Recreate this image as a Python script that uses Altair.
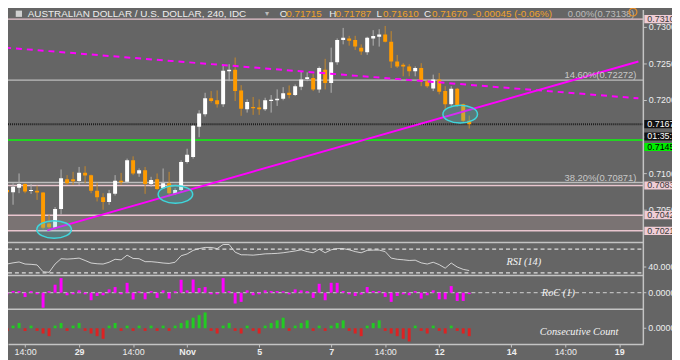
import altair as alt
import pandas as pd

# ---------------- data ----------------
bar_index = list(range(-12, 66))
opens = [0.70771, 0.70740, 0.70802, 0.70852, 0.70757, 0.70761, 0.70734, 0.70311, 0.70253, 0.70510,
         0.70915, 0.70915, 0.70892, 0.71004, 0.70973, 0.70761, 0.70672, 0.70604, 0.70717, 0.70896,
         0.70883, 0.71176, 0.70996, 0.71041, 0.70852, 0.70915, 0.70794, 0.70861, 0.70717, 0.70771,
         0.71153, 0.71220, 0.71635, 0.71807, 0.72023, 0.71996, 0.71942, 0.72392, 0.72415, 0.72131,
         0.71874, 0.71905, 0.71896, 0.71874, 0.71986, 0.71996, 0.72018, 0.72099, 0.72068, 0.72180,
         0.72288, 0.72301, 0.72145, 0.72415, 0.72234, 0.72518, 0.72820, 0.72842, 0.72820, 0.72716,
         0.72653, 0.72842, 0.72865, 0.72896, 0.72797, 0.72527, 0.72482, 0.72459, 0.72392, 0.72437,
         0.72257, 0.72158, 0.72280, 0.72122, 0.71942, 0.72153, 0.71942, 0.71715]
highs = [0.70790, 0.70861, 0.70996, 0.70861, 0.70852, 0.70829, 0.70740, 0.70433, 0.70537, 0.71050,
         0.70973, 0.71018, 0.71085, 0.71095, 0.70980, 0.70869, 0.70726, 0.70771, 0.70973, 0.71004,
         0.71199, 0.71230, 0.71064, 0.71085, 0.70950, 0.70996, 0.71064, 0.71018, 0.70794, 0.71176,
         0.71334, 0.71660, 0.71861, 0.72099, 0.72122, 0.72131, 0.72482, 0.72490, 0.72581, 0.72203,
         0.72009, 0.72041, 0.72009, 0.72031, 0.72068, 0.72145, 0.72176, 0.72199, 0.72212, 0.72392,
         0.72378, 0.72355, 0.72459, 0.72563, 0.72716, 0.72842, 0.72986, 0.72878, 0.72878, 0.72761,
         0.72865, 0.72955, 0.72968, 0.73013, 0.72942, 0.72617, 0.72504, 0.72490, 0.72459, 0.72504,
         0.72280, 0.72347, 0.72369, 0.72189, 0.72189, 0.72166, 0.71950, 0.71787]
lows = [0.70720, 0.70568, 0.70726, 0.70726, 0.70717, 0.70635, 0.70230, 0.70217, 0.70230, 0.70433,
        0.70838, 0.70838, 0.70838, 0.70861, 0.70726, 0.70613, 0.70500, 0.70568, 0.70694, 0.70838,
        0.70861, 0.70973, 0.70950, 0.70717, 0.70815, 0.70771, 0.70785, 0.70680, 0.70703, 0.70748,
        0.71131, 0.71199, 0.71491, 0.71774, 0.71964, 0.71896, 0.71905, 0.72257, 0.71986, 0.71784,
        0.71828, 0.71797, 0.71797, 0.71851, 0.71828, 0.71919, 0.71996, 0.72023, 0.72054, 0.72135,
        0.72257, 0.72122, 0.72099, 0.72145, 0.72099, 0.72482, 0.72761, 0.72743, 0.72685, 0.72617,
        0.72617, 0.72743, 0.72730, 0.72788, 0.72437, 0.72437, 0.72324, 0.72324, 0.72324, 0.72189,
        0.72166, 0.72122, 0.72077, 0.71861, 0.71919, 0.71905, 0.71693, 0.71610]
closes = [0.70740, 0.70815, 0.70852, 0.70748, 0.70768, 0.70734, 0.70253, 0.70261, 0.70510, 0.70929,
          0.70861, 0.70888, 0.71004, 0.70969, 0.70761, 0.70672, 0.70604, 0.70726, 0.70896, 0.70875,
          0.71176, 0.70996, 0.71041, 0.70852, 0.70906, 0.70784, 0.70861, 0.70726, 0.70771, 0.71153,
          0.71253, 0.71649, 0.71815, 0.72023, 0.71986, 0.71942, 0.72401, 0.72415, 0.72122, 0.71882,
          0.71973, 0.71888, 0.71874, 0.71996, 0.72004, 0.72018, 0.72091, 0.72068, 0.72189, 0.72280,
          0.72311, 0.72145, 0.72437, 0.72234, 0.72518, 0.72820, 0.72851, 0.72811, 0.72730, 0.72662,
          0.72851, 0.72874, 0.72896, 0.72797, 0.72527, 0.72459, 0.72459, 0.72392, 0.72437, 0.72266,
          0.72189, 0.72280, 0.72112, 0.71942, 0.72153, 0.71919, 0.71716, 0.71670]
rsi_vals = [45, 47, 48.5, 45, 44.5, 43.5, 32, 31, 45, 54,
            53.3, 54, 55, 51, 46.7, 45.5, 45, 48, 53, 52,
            60, 54.4, 54, 49, 49, 48, 46.7, 46, 48, 59,
            62, 68, 71, 73, 73, 71, 78, 78, 65, 60.6,
            60.5, 60, 61, 62.2, 62.5, 63, 64, 65.5, 67, 69,
            66, 64, 70, 64, 69, 71, 71, 69, 66, 64,
            68, 68.5, 68.5, 66, 55, 53, 52.2, 51, 51.5, 47,
            45, 48, 44, 38, 46.7, 40, 36, 34]
roc_vals = [-0.07, 0.07, 0.07, -0.18, 0.07, -0.07, -0.64, 0.07, 0.34, 0.62,
            -0.11, -0.07, 0.10, -0.07, -0.32, -0.14, -0.11, 0.14, 0.24, -0.07,
            0.42, -0.29, 0.06, -0.28, 0.07, -0.22, 0.10, -0.25, 0.06, 0.55,
            0.10, 0.56, 0.20, 0.24, -0.07, -0.07, 0.62, 0.07, -0.46, -0.39,
            0.10, -0.11, -0.07, 0.10, 0.07, 0.07, 0.06, -0.07, 0.14, 0.10,
            0.07, -0.22, 0.38, -0.32, 0.42, 0.42, 0.07, -0.07, -0.14, -0.08,
            0.24, 0.07, 0.07, -0.18, -0.39, -0.14, -0.07, -0.11, 0.07, -0.25,
            -0.11, 0.10, -0.28, -0.28, 0.28, -0.35, -0.35, -0.06]
count_vals = [-1, 1, 2, -1, 1, -1, -2, -3, 1, 2,
              -1, 1, 2, -1, -2, -3, -4, 1, 2, -1,
              1, -1, 1, -1, 1, -1, 1, -1, 1, 2,
              3, 4, 5, 6, -1, -2, 1, 2, -1, -2,
              1, -1, -2, 1, 2, 3, 4, -1, 1, 2,
              3, -1, 1, -1, 1, 2, 3, -1, -2, -3,
              1, 2, 3, -1, -2, -3, -4, -5, 1, -1,
              -2, 1, -1, -2, 1, -1, -2, -3]

tick_vals = [-9, 0, 9, 18, 30, 42, 51, 60, 72, 81, 90]
tick_labels = ["14:00", "29", "14:00", "Nov", "5", "7", "14:00", "12", "14", "14:00", "19"]
price_ticks = [0.705, 0.710, 0.715, 0.720, 0.725, 0.730]

trend_x = [-5.3, 93.19]
trend_y = [0.70217, 0.72527]
dash_x = [-12.32, 93.19]
dash_y = [0.72716, 0.72023]
ellipse_x = [-4.16, 16.05, 63.5]
ellipse_y = [0.70230, 0.70710, 0.71807]

fib_levels = [0.72272, 0.70871]
fib_texts = ["14.60%(0.72272)", "38.20%(0.70871)"]
fib_top_level = [0.73138]
fib_top_text = ["0.00%(0.73138)"]
pink_levels = [0.73106, 0.70831, 0.70425, 0.70211]
pink_texts = ["0.73106", "0.70831", "0.70425", "0.70211"]
band_top = [0.70425]
band_bottom = [0.70211]
last_close = [0.71670]
last_text = ["0.71670"]
green_level = [0.71452]
green_text = ["0.71452"]
countdown = ["01:35:52"]
rsi_levels = [70, 30]
rsi_label_val = [40]
zero_val = [0]

title_text = "AUSTRALIAN DOLLAR / U.S. DOLLAR, 240, IDC"
ohlc_letters = ["O", "H", "L", "C"]
ohlc_values = ["0.71715", "0.71787", "0.71610", "0.71670"]
change_text = "-0.00045 (-0.06%)"
panel_titles = ["RSI (14)", "RoC (1)", "Consecutive Count"]

# ---------------- styling / layout ----------------
W, H = 643, 338
BG = "#656565"
ORANGE = "#ff9b00"
LINEGRAY = "#c4c4c4"
TXT = "#eeeeee"
FONT = "Liberation Sans"

XS = alt.Scale(domain=[-11.02, 93.19], nice=False, zero=False)


def ysc(dom, rng):
    return alt.Scale(domain=dom, range=rng, nice=False, zero=False)


PY = ysc([0.700, 0.732], [239.04, 2.18])
RY = ysc([30, 70], [266, 242])
CY = ysc([-1, 1], [309.8, 262.2])
NY = ysc([-6, 6], [338, 306])

label_expr = "''"
for v, t in reversed(list(zip(tick_vals, tick_labels))):
    label_expr = f"datum.value == {v} ? '{t}' : ({label_expr})"

XAXIS = alt.Axis(values=tick_vals, labelExpr=label_expr, title=None, grid=False,
                 domainColor=LINEGRAY, domainWidth=1.5, tickColor=LINEGRAY, tickSize=3,
                 labelColor=TXT, labelFontSize=9, labelFont=FONT, labelPadding=1,
                 labelFontWeight={"condition": {"test": "indexof([-9, 9, 51, 81], datum.value) < 0",
                                                "value": "bold"}, "value": "normal"},
                 labelOverlap=False, labelFlush=False)
PAXIS = alt.Axis(orient="right", values=price_ticks, format=".5f", title=None, grid=False,
                 domain=False, tickSize=3, tickColor=LINEGRAY, labelColor=TXT, labelFontSize=9,
                 labelFont=FONT, labelPadding=2)

df = pd.DataFrame(dict(i=bar_index, o=opens, h=highs, l=lows, c=closes,
                       rsi=rsi_vals, roc=roc_vals, cnt=count_vals))
base = alt.Chart(df)
X = alt.X("i:Q", scale=XS, axis=XAXIS)
UP = "datum.c >= datum.o"
dummy = pd.DataFrame({"a": [0]})

layers = []

# band
layers.append(alt.Chart(pd.DataFrame({"a": band_top, "b": band_bottom})).mark_rect(color="#7a7373").encode(
    y=alt.Y("a:Q", scale=PY, axis=None), y2="b:Q", x=alt.value(0), x2=alt.value(W)))


def hlines(vals, **kw):
    return alt.Chart(pd.DataFrame({"p": vals})).mark_rule(**kw).encode(
        y=alt.Y("p:Q", scale=PY, axis=None), x=alt.value(0), x2=alt.value(W))


layers.append(hlines(fib_levels, color="#bdbdbd", strokeWidth=1.5))
layers.append(hlines(pink_levels, color="#e9c6cf", strokeWidth=1.5))
layers.append(hlines(last_close, color="#1c1c1c", strokeWidth=2, strokeDash=[1, 1]))
layers.append(hlines(green_level, color="#22d422", strokeWidth=2))

# candles
layers.append(base.mark_rule(strokeWidth=1, clip=True).encode(
    x=X, y=alt.Y("h:Q", scale=PY, axis=None), y2="l:Q",
    color=alt.condition(UP, alt.value("#b4b4b4"), alt.value("#c8892a"))))
layers.append(base.mark_bar(size=4, clip=True).encode(
    x=X, y=alt.Y("o:Q", scale=PY, axis=PAXIS), y2="c:Q",
    color=alt.condition(UP, alt.value("#ffffff"), alt.value(ORANGE))))

# trend lines
layers.append(alt.Chart(pd.DataFrame({"tx": trend_x, "ty": trend_y})).mark_line(
    color="#ff00ff", strokeWidth=2, clip=True).encode(
    x=alt.X("tx:Q", scale=XS, axis=XAXIS), y=alt.Y("ty:Q", scale=PY, axis=None)))
layers.append(alt.Chart(pd.DataFrame({"tx": dash_x, "ty": dash_y})).mark_line(
    color="#ff00ff", strokeWidth=2, strokeDash=[6, 5], clip=True).encode(
    x=alt.X("tx:Q", scale=XS, axis=XAXIS), y=alt.Y("ty:Q", scale=PY, axis=None)))

# ellipses
ELL = "M-1,0 A1,0.51 0 1,1 1,0 A1,0.51 0 1,1 -1,0 Z"
layers.append(alt.Chart(pd.DataFrame({"ex": ellipse_x, "ey": ellipse_y})).mark_point(
    shape=ELL, size=1225, filled=True, fill="#3cc6c9", fillOpacity=0.22, stroke="#3fd6dc",
    strokeWidth=1.5, opacity=1, clip=True).encode(
    x=alt.X("ex:Q", scale=XS, axis=XAXIS), y=alt.Y("ey:Q", scale=PY, axis=None)))

# fib labels
layers.append(alt.Chart(pd.DataFrame({"p": fib_levels, "t": fib_texts})).mark_text(
    align="right", baseline="middle", dy=-5, fontSize=9.5, font=FONT, color="#c8c8c8").encode(
    x=alt.value(636), y=alt.Y("p:Q", scale=PY, axis=None), text="t:N"))
layers.append(alt.Chart(pd.DataFrame({"p": fib_top_level, "t": fib_top_text})).mark_text(
    align="right", baseline="middle", dy=-3, fontSize=9.5, font=FONT, color="#bdbdbd").encode(
    x=alt.value(634), y=alt.Y("p:Q", scale=PY, axis=None), text="t:N"))

# indicator panels
layers.append(base.mark_line(color="#d4d4d4", strokeWidth=1, clip=True).encode(
    x=X, y=alt.Y("rsi:Q", scale=RY, axis=None)))
layers.append(alt.Chart(pd.DataFrame({"v": rsi_levels})).mark_rule(
    color="#dddddd", strokeWidth=1.2, strokeDash=[4, 3]).encode(
    y=alt.Y("v:Q", scale=RY, axis=None), x=alt.value(0), x2=alt.value(W)))
layers.append(alt.Chart(pd.DataFrame({"v": zero_val})).mark_rule(
    color="#bbbbbb", strokeWidth=1.2, strokeDash=[4, 3]).encode(
    y=alt.Y("v:Q", scale=CY, axis=None), x=alt.value(0), x2=alt.value(W)))
layers.append(base.mark_bar(size=3, color="#ff00ff", clip=True).encode(
    x=X, y=alt.Y("roc:Q", scale=CY, axis=None), y2=alt.datum(0)))
layers.append(base.mark_bar(size=3, clip=True).encode(
    x=X, y=alt.Y("cnt:Q", scale=NY, axis=None), y2=alt.datum(0),
    color=alt.condition("datum.cnt > 0", alt.value("#22cc22"), alt.value("#dd2222"))))

# separators and right edge
for sy in [235.3, 268.7, 302.7]:
    layers.append(alt.Chart(dummy).mark_rule(color=LINEGRAY, strokeWidth=1.5).encode(
        y=alt.value(sy), x=alt.value(0), x2=alt.value(W)))
layers.append(alt.Chart(dummy).mark_rule(color=LINEGRAY, strokeWidth=1.5).encode(
    x=alt.value(W), y=alt.value(0), y2=alt.value(H)))

# right-hand sub-panel value labels
for vals, sc, txt in [(rsi_label_val, RY, "40.0000"), (zero_val, CY, "0.0000"), (zero_val, NY, "0.0000")]:
    d = pd.DataFrame({"v": vals, "t": [txt]})
    layers.append(alt.Chart(d).mark_rule(color=LINEGRAY, strokeWidth=1).encode(
        y=alt.Y("v:Q", scale=sc, axis=None), x=alt.value(W), x2=alt.value(W + 3)))
    layers.append(alt.Chart(d).mark_text(align="left", baseline="middle", fontSize=9, font=FONT,
                                         color=TXT).encode(
        y=alt.Y("v:Q", scale=sc, axis=None), x=alt.value(W + 5), text="t:N"))

# price label boxes
BOX = "M-1,-0.23 L1,-0.23 L1,0.23 L-1,0.23 Z"


def box(vals, texts, fill, tcolor, yoff=0):
    d = pd.DataFrame({"p": vals, "t": texts})
    b = alt.Chart(d).mark_point(shape=BOX, size=1296, filled=True, fill=fill, strokeWidth=0,
                                opacity=1, yOffset=yoff).encode(
        x=alt.value(662), y=alt.Y("p:Q", scale=PY, axis=None))
    t = alt.Chart(d).mark_text(align="left", baseline="middle", fontSize=9, font=FONT,
                               color=tcolor, dy=yoff).encode(
        x=alt.value(W + 4), y=alt.Y("p:Q", scale=PY, axis=None), text="t:N")
    return [b, t]


layers += box(pink_levels, pink_texts, "#f0cdd6", "#3a3a3a")
layers += box(last_close, last_text, "#111111", "#ffffff")
layers += box(last_close, countdown, "#111111", "#ffffff", 12.5)
layers += box(green_level, green_text, "#00ee00", "#000000", 7)


def txt(s, x, y, color=TXT, size=10, align="left", font=FONT, style="normal", weight="normal"):
    return alt.Chart(dummy).mark_text(text=s, align=align, baseline="middle", fontSize=size,
                                      font=font, fontStyle=style, fontWeight=weight,
                                      color=color).encode(x=alt.value(x), y=alt.value(y))


# header
layers.append(alt.Chart(dummy).mark_point(shape="square", size=40, filled=True, fill="#d0d0d0",
                                          opacity=1).encode(x=alt.value(11), y=alt.value(3.7)))
layers.append(txt(title_text, 20, 3.7))
layers.append(txt("▾", 260, 3.7, color="#bbbbbb", size=8))
ORTXT = "#f0a22a"
for letter, val, lx in zip(ohlc_letters, ohlc_values, [275, 325, 373, 421]):
    layers.append(txt(letter, lx, 3.7))
    layers.append(txt(val, lx + 6.5 if letter != "C" else lx + 8, 3.7, color=ORTXT))
layers.append(txt(change_text, 470, 3.7, color=ORTXT))
layers.append(alt.Chart(dummy).mark_point(shape="circle", size=64, filled=False, stroke="#e8902a",
                                          strokeWidth=1.2, opacity=1).encode(
    x=alt.value(632.5), y=alt.value(2)))

# panel titles
for t, px, py in zip(panel_titles, [522, 557, 578], [255.3, 286.3, 326.3]):
    layers.append(txt(t, px, py, color="#f4f4f4", size=10.5, align="center",
                      font="Liberation Serif", style="italic"))

chart = alt.layer(*layers).resolve_scale(y="independent").properties(
    width=W, height=H,
    autosize=alt.AutoSizeParams(type="none"),
    padding={"left": 0, "top": 0, "right": 29, "bottom": 14},
).configure(background=BG).configure_view(strokeWidth=0)

chart.save("out.html", embed_options={"renderer": "svg", "actions": False})
